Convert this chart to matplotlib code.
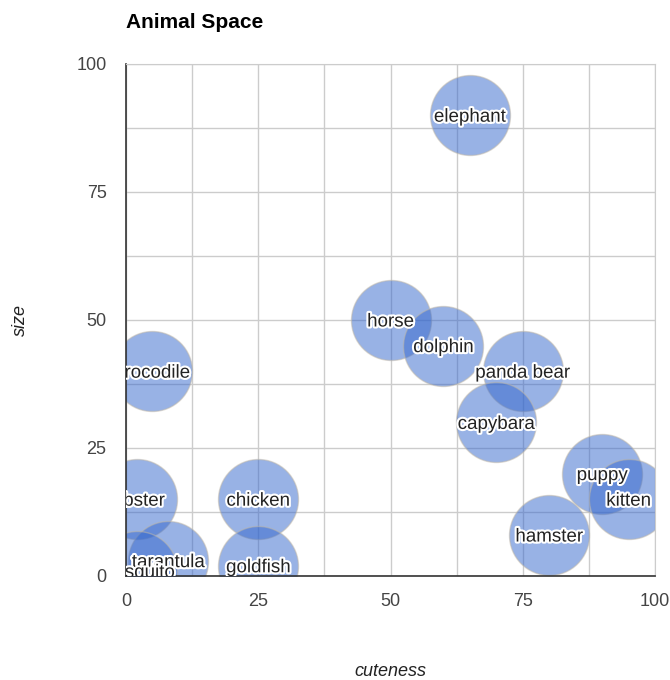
import matplotlib.pyplot as plt
import matplotlib.patheffects as pe
from matplotlib.ticker import MultipleLocator

plt.rcParams['font.family'] = ['Liberation Sans', 'DejaVu Sans']

# animal positions
animals = ["elephant", "horse", "dolphin", "panda bear", "capybara", "puppy",
           "kitten", "hamster", "crocodile", "lobster", "chicken", "goldfish",
           "tarantula", "mosquito"]
cuteness = [65, 50, 60, 75, 70, 90, 95, 80, 5, 2, 25, 25, 8, 2]
size = [90, 50, 45, 40, 30, 20, 15, 8, 40, 15, 15, 2, 3, 1]

fig = plt.figure(figsize=(6.7, 6.8), dpi=100)
ax = fig.add_axes([126/670, 104/680, 529/670, 512/680])

ax.set_xlim(0, 100)
ax.set_ylim(0, 100)
ax.xaxis.set_major_locator(MultipleLocator(25))
ax.yaxis.set_major_locator(MultipleLocator(25))
ax.xaxis.set_minor_locator(MultipleLocator(12.5))
ax.yaxis.set_minor_locator(MultipleLocator(12.5))
ax.grid(which="both", color="#cccccc", linewidth=1)
ax.set_axisbelow(True)
ax.tick_params(which="both", length=0, labelsize=13, labelcolor="#444444")
ax.tick_params(axis="y", pad=14)
ax.tick_params(axis="x", pad=12)

for s in ["top", "right"]:
    ax.spines[s].set_color("#cccccc")
for s in ["left", "bottom"]:
    ax.spines[s].set_color("#333333")
    ax.spines[s].set_linewidth(1.2)

# bubbles, 80 px across
ax.scatter(cuteness, size, s=(80 * 72 / 100) ** 2, color="#3366cc", alpha=0.5,
           edgecolors="#c0b8a8", linewidths=1, zorder=2)

halo = [pe.withStroke(linewidth=3, foreground="white")]
for name, x, y in zip(animals, cuteness, size):
    ax.text(x, y, name, ha="center", va="center_baseline", fontsize=13.5,
            color="#222222", path_effects=halo, clip_on=True, zorder=3)

fig.text(126/670, 1 - 22/680, "Animal Space", fontsize=15, fontweight="bold",
         ha="left", va="center")
fig.text(390/670, 1 - 672/680, "cuteness", fontsize=13, style="italic",
         ha="center", va="center", color="#222222")
fig.text(20/670, 1 - 320/680, "size", fontsize=13, style="italic", rotation=90,
         ha="center", va="center", color="#222222")

fig.savefig("out.png", dpi=100)
